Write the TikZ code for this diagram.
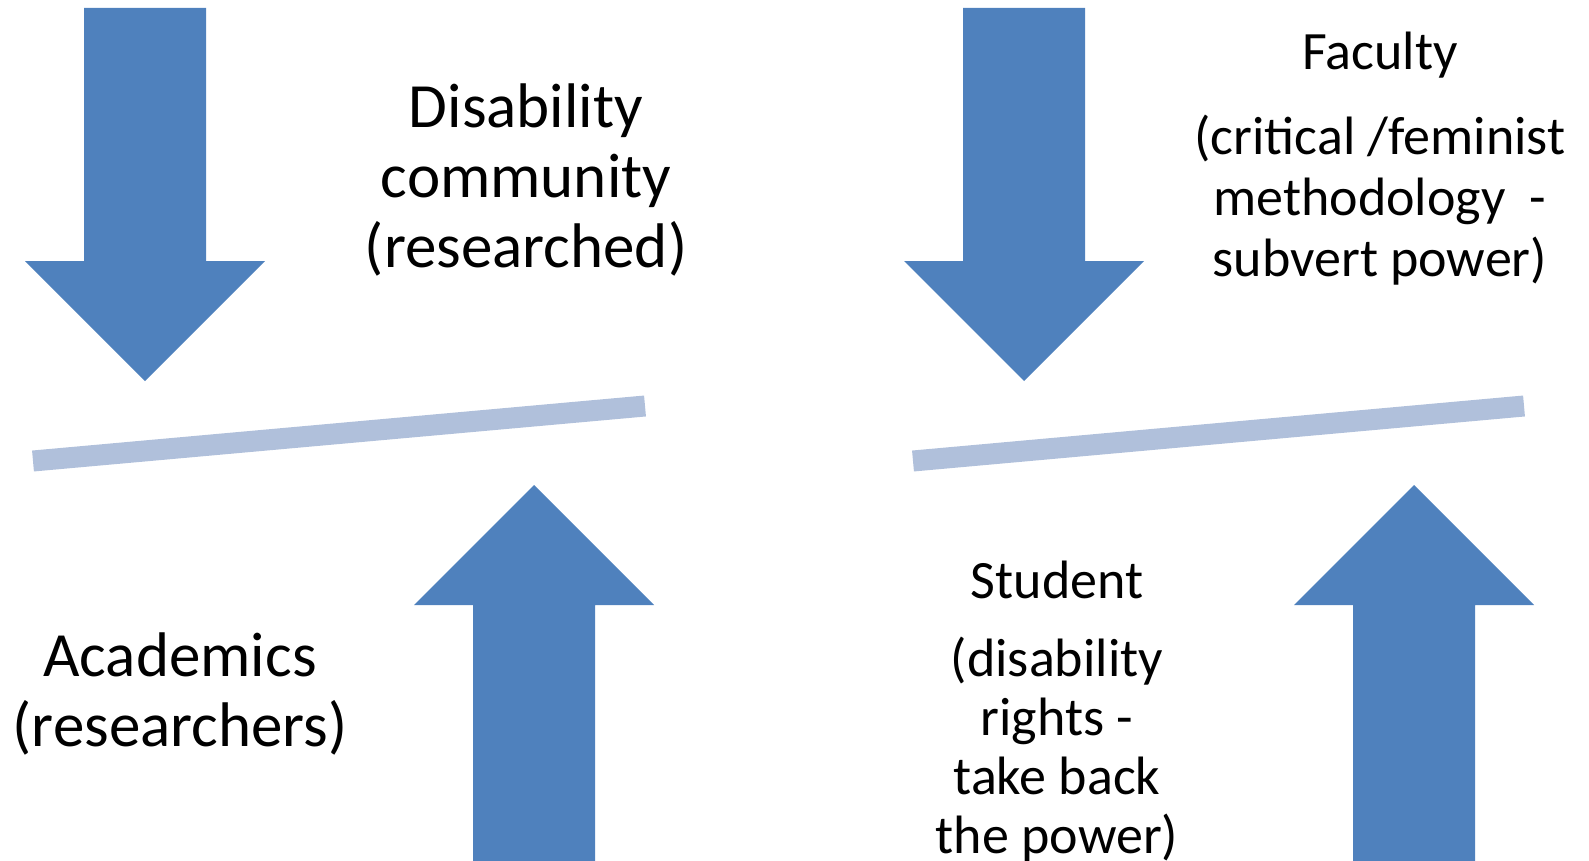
\documentclass[tikz,border=0pt]{standalone}
\usepackage{fontspec}
\setmainfont{Carlito}
\usetikzlibrary{positioning}
\definecolor{arrowblue}{RGB}{79,129,189}
\definecolor{barblue}{RGB}{176,192,219}
\tikzset{
  fat-arrow/.style={fill=arrowblue, draw=none},
  balance-bar/.style={draw=barblue, line width=21pt, line cap=butt},
  big-label/.style={align=center, inner sep=0pt, font=\fontsize{63}{70}\selectfont},
  small-label/.style={align=center, inner sep=0pt, font=\fontsize{54}{61}\selectfont}
}
% block arrows, given by the x of the tip
\newcommand{\pushdown}[1]{
  \fill[fat-arrow, shift={(#1,0)}] (-61,8) -- (61,8) -- (61,261) -- (120,261)
    -- (0,381) -- (-120,261) -- (-61,261) -- cycle;
}
\newcommand{\pushup}[1]{
  \fill[fat-arrow, shift={(#1,0)}] (-61,865) -- (61,865) -- (61,605) -- (120,605)
    -- (0,485) -- (-120,605) -- (-61,605) -- cycle;
}

\begin{document}
\begin{tikzpicture}[x=1pt, y=-1pt]
  \useasboundingbox (0,0) rectangle (1589,861);
  % Left: disability community and academics
  \pushdown{145}
  \pushup{534}
  \coordinate (lbar-a) at (33,461);
  \coordinate (lbar-b) at (645,406);
  \draw[balance-bar] (lbar-a) -- (lbar-b);
  \node[big-label] (community) at (526,180) {Disability\\community\\(researched)};
  \node[big-label] (academics) at (180,694) {Academics\\(researchers)};
  % Right: faculty and student
  \pushdown{1024}
  \pushup{1414}
  \coordinate (rbar-a) at (913,461);
  \coordinate (rbar-b) at (1524,406);
  \draw[balance-bar] (rbar-a) -- (rbar-b);
  \node[small-label] (faculty) at (1380,55) {Faculty};
  \node[small-label] (faculty-note) at (1380,200) {(critical /feminist\\methodology~ -\\subvert power)};
  \node[small-label] (student) at (1057,580) {Student};
  \node[small-label, font=\fontsize{54}{59}\selectfont] (student-note) at (1057,750) {(disability\\rights -\\take back\\the power)};
\end{tikzpicture}
\end{document}
